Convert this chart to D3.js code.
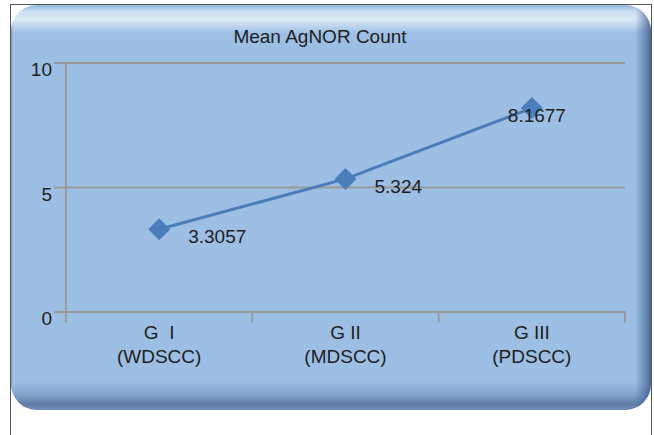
<!DOCTYPE html>
<html>
<head>
<meta charset="utf-8">
<script src="https://cdn.jsdelivr.net/npm/d3@7"></script>
<style>
  html, body { margin: 0; padding: 0; background: #fff; }
  svg { display: block; }
</style>
</head>
<body>
<div id="chart"></div>
<script>
const title = 'Mean AgNOR Count'
const categories = ['G  I|(WDSCC)', 'G II|(MDSCC)', 'G III|(PDSCC)']
const values = [3.3057, 5.324, 8.1677]
const valueLabels = ['3.3057', '5.324', '8.1677']
const yTicks = [0, 5, 10]

const W = 654, H = 435
const FONT = 'Liberation Sans, Arial, sans-serif'
const PLOT = { left: 66, right: 625, top: 62.5, bottom: 311.5 }
const LINE_COLOR = '#4a7ebb'
const TEXT_COLOR = '#1e1e1e'
const GRID_COLOR = '#9a9a9a'

const svg = d3.select('#chart').append('svg').attr('width', W).attr('height', H)
const defs = svg.append('defs')

// ── Outer frame ──────────────────────────────────────────────────────────
svg.append('rect')
  .attr('x', 10.5).attr('y', 4.5).attr('width', 641).attr('height', 440)
  .attr('fill', 'none').attr('stroke', '#555').attr('stroke-width', 1)

// ── Bevelled panel ───────────────────────────────────────────────────────
const panel = { x: 11, y: 5, w: 640, h: 405, r: 26 }

defs.append('clipPath').attr('id', 'panelClip')
  .append('rect').attr('x', panel.x).attr('y', panel.y).attr('width', panel.w).attr('height', panel.h).attr('rx', panel.r)

const vGrad = defs.append('linearGradient').attr('id', 'vGrad').attr('x1', 0).attr('y1', 0).attr('x2', 0).attr('y2', 1)
;[
  [0, '#8fb3da', 1], [0.015, '#c9def2', 1], [0.035, '#dceaf7', 1], [0.07, '#9dbfe4', 1],
  [0.93, '#9dbfe4', 1], [0.965, '#7f9fc9', 1], [0.985, '#5f7ca6', 1], [1, '#6f8cb5', 1]
].forEach(([o, c, a]) => vGrad.append('stop').attr('offset', o).attr('stop-color', c).attr('stop-opacity', a))

const hGrad = defs.append('linearGradient').attr('id', 'hGrad').attr('x1', 0).attr('y1', 0).attr('x2', 1).attr('y2', 0)
;[
  [0, '#4a6a96', 0.55], [0.006, '#ffffff', 0.0], [0.975, '#3d5f8c', 0.0], [0.99, '#3d5f8c', 0.5], [1, '#2e4a70', 0.75]
].forEach(([o, c, a]) => hGrad.append('stop').attr('offset', o).attr('stop-color', c).attr('stop-opacity', a))

const pg = svg.append('g').attr('clip-path', 'url(#panelClip)')
pg.append('rect').attr('x', panel.x).attr('y', panel.y).attr('width', panel.w).attr('height', panel.h).attr('fill', 'url(#vGrad)')
pg.append('rect').attr('x', panel.x).attr('y', panel.y).attr('width', panel.w).attr('height', panel.h).attr('fill', 'url(#hGrad)')

// ── Scales ───────────────────────────────────────────────────────────────
const x = d3.scaleBand().domain(categories).range([PLOT.left, PLOT.right]).padding(0)
const y = d3.scaleLinear().domain([0, 10]).range([PLOT.bottom, PLOT.top])
const cx = d => x(d) + x.bandwidth() / 2

// ── Gridlines + y axis ───────────────────────────────────────────────────
const yAxis = svg.append('g')
  .attr('transform', `translate(${PLOT.left},0)`)
  .call(d3.axisLeft(y).tickValues(yTicks).tickSize(12).tickPadding(2).tickFormat(d3.format('d')))
yAxis.select('.domain').remove()
yAxis.selectAll('.tick line').attr('stroke', GRID_COLOR).attr('stroke-width', 2)
  .attr('x1', -12).attr('x2', PLOT.right - PLOT.left)
yAxis.selectAll('.tick text')
  .attr('fill', TEXT_COLOR).attr('font-family', FONT).attr('font-size', 19)
  .attr('dy', '0.7em').attr('x', -14)

svg.append('line')
  .attr('x1', PLOT.left).attr('x2', PLOT.left).attr('y1', PLOT.top).attr('y2', PLOT.bottom + 11)
  .attr('stroke', GRID_COLOR).attr('stroke-width', 2)

// ── X axis ───────────────────────────────────────────────────────────────
const bandEdges = categories.map(c => x(c)).concat([x(categories[categories.length - 1]) + x.bandwidth()])
svg.append('g').selectAll('line').data(bandEdges).join('line')
  .attr('x1', d => d).attr('x2', d => d).attr('y1', PLOT.bottom).attr('y2', PLOT.bottom + 11)
  .attr('stroke', GRID_COLOR).attr('stroke-width', 2)

const xLabels = svg.append('g').selectAll('text').data(categories).join('text')
  .attr('x', d => cx(d)).attr('y', PLOT.bottom + 27.5)
  .attr('text-anchor', 'middle').attr('fill', TEXT_COLOR)
  .attr('font-family', FONT).attr('font-size', 19).style('white-space', 'pre')
xLabels.each(function (d) {
  const parts = d.split('|')
  d3.select(this).selectAll('tspan').data(parts).join('tspan')
    .attr('x', cx(d)).attr('dy', (p, i) => i === 0 ? 0 : 23.5).text(p => p)
})

// ── Title ────────────────────────────────────────────────────────────────
svg.append('text').attr('x', 320).attr('y', 42.5).attr('text-anchor', 'middle')
  .attr('fill', TEXT_COLOR).attr('font-family', FONT).attr('font-size', 19).text(title)

// ── Series line + markers ────────────────────────────────────────────────
const pts = categories.map((c, i) => [cx(c), y(values[i])])
svg.append('path').datum(pts)
  .attr('d', d3.line())
  .attr('fill', 'none').attr('stroke', LINE_COLOR).attr('stroke-width', 3)

svg.append('g').selectAll('path').data(pts).join('path')
  .attr('transform', d => `translate(${d[0]},${d[1]})`)
  .attr('d', 'M0,-11L11,0L0,11L-11,0Z')
  .attr('fill', LINE_COLOR)

// ── Data labels ──────────────────────────────────────────────────────────
const labelDx = [29, 29, -24]
svg.append('g').selectAll('text').data(pts).join('text')
  .attr('x', (d, i) => d[0] + labelDx[i]).attr('y', d => d[1] + 14)
  .attr('fill', TEXT_COLOR).attr('font-family', FONT).attr('font-size', 19)
  .text((d, i) => valueLabels[i])
</script>
</body>
</html>
